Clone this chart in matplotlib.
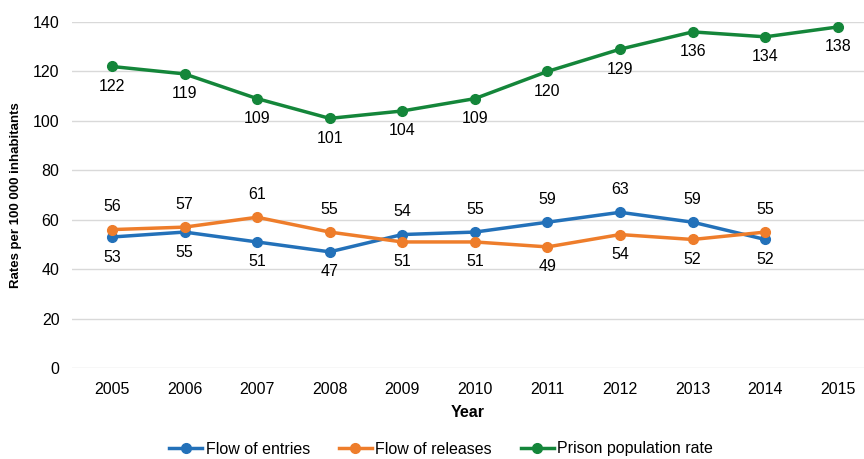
import matplotlib.pyplot as plt

# data
years = ["2005", "2006", "2007", "2008", "2009", "2010", "2011", "2012", "2013", "2014", "2015"]
entries = [53, 55, 51, 47, 54, 55, 59, 63, 59, 52]
releases = [56, 57, 61, 55, 51, 51, 49, 54, 52, 55]
prison = [122, 119, 109, 101, 104, 109, 120, 129, 136, 134, 138]

blue = "#2371B9"
orange = "#EE7D2B"
green = "#14863A"

plt.rcParams["font.family"] = ["Liberation Sans", "DejaVu Sans"]

fig = plt.figure(figsize=(8.64, 4.59), dpi=100)
ax = fig.add_axes([72 / 864, 1 - 368 / 459, 1 - 72 / 864, (368 - 22) / 459])

x_e = range(len(entries))
x_p = range(len(prison))
ax.plot(x_e, entries, color=blue, lw=2.5, marker="o", ms=7, label="Flow of entries")
ax.plot(x_e, releases, color=orange, lw=2.5, marker="o", ms=7, label="Flow of releases")
ax.plot(x_p, prison, color=green, lw=2.5, marker="o", ms=7, label="Prison population rate")

# labels: the higher of entries/releases goes above, the lower below
up, down = 11, -9
for i in x_e:
    e, r = entries[i], releases[i]
    hi, lo = (e, r) if e >= r else (r, e)
    ax.annotate(str(hi), (i, hi), xytext=(0, up), textcoords="offset points", ha="center", va="bottom", fontsize=11.5)
    ax.annotate(str(lo), (i, lo), xytext=(0, down), textcoords="offset points", ha="center", va="top", fontsize=11.5)
for i in x_p:
    ax.annotate(str(prison[i]), (i, prison[i]), xytext=(0, down), textcoords="offset points", ha="center", va="top", fontsize=11.5)

ax.set_xlim(-0.55, 10.36)
ax.set_ylim(0, 140)
ax.set_yticks(range(0, 141, 20))
ax.set_xticks(list(x_p))
ax.set_xticklabels(years)
ax.tick_params(length=0, labelsize=11.5)
ax.tick_params(axis="x", pad=10)
ax.tick_params(axis="y", pad=9)
ax.grid(axis="y", color="#d9d9d9", lw=1)
ax.set_axisbelow(True)
for s in ax.spines.values():
    s.set_visible(False)

ax.set_ylabel("Rates per 100 000 inhabitants", fontsize=9.5, fontweight="bold", labelpad=8)
ax.set_xlabel("Year", fontsize=11.5, fontweight="bold", labelpad=6)

fig.legend(loc="center", bbox_to_anchor=(441 / 864, 1 - 449 / 459), ncol=3, frameon=False,
           prop={"size": 11.5}, handlelength=2.1, columnspacing=1.8, handletextpad=0.2)

fig.savefig("out.png", dpi=100)
